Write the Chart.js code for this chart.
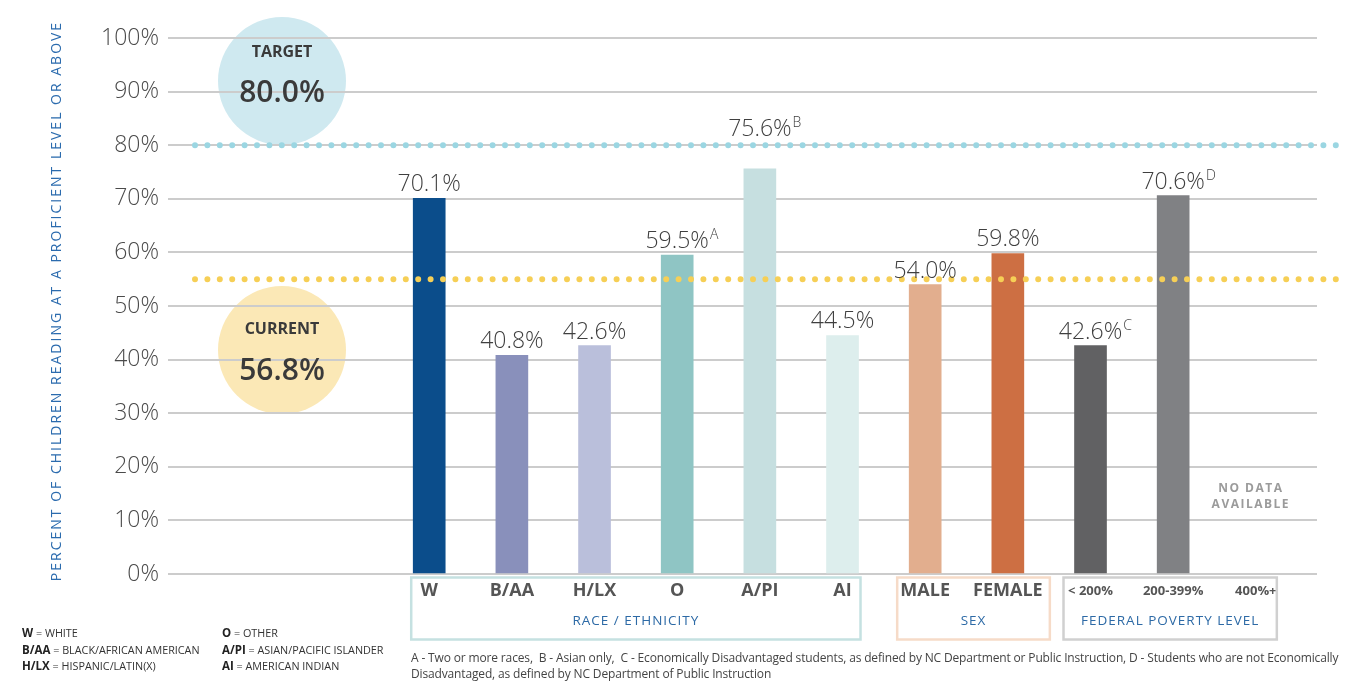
<!DOCTYPE html>
<html>
<head>
<meta charset="utf-8">
<title>Reading proficiency</title>
<script src="https://cdn.jsdelivr.net/npm/chart.js@4.4.0/dist/chart.umd.min.js"></script>
<style>
    html, body { margin: 0; padding: 0; background: #fff; }
    #wrap { position: relative; width: 1350px; height: 681px; overflow: hidden; }
    #reportChart { position: absolute; left: 0; top: 0; }
    .legend { position: absolute; font-family: 'Open Sans', sans-serif; font-size: 10.8px; color: #333; line-height: 16.5px; white-space: nowrap; }
    .legend b { font-size: 11.5px; color: #222; }
    #note { position: absolute; left: 411px; top: 650px; font-family: 'Liberation Sans Narrow', 'Open Sans', sans-serif; font-size: 12px; letter-spacing: -0.15px; line-height: 16px; color: #444; white-space: nowrap; }
</style>
</head>
<body>
<div id="wrap">
    <canvas id="reportChart" width="1350" height="681"></canvas>
    <div class="legend" style="left:22px; top:625px">
        <b>W</b> = WHITE<br>
        <b>B/AA</b> = BLACK/AFRICAN AMERICAN<br>
        <b>H/LX</b> = HISPANIC/LATIN(X)
    </div>
    <div class="legend" style="left:222px; top:625px">
        <b>O</b> = OTHER<br>
        <b>A/PI</b> = ASIAN/PACIFIC ISLANDER<br>
        <b>AI</b> = AMERICAN INDIAN
    </div>
    <div id="note">A - Two or more races,&nbsp; B - Asian only,&nbsp; C - Economically Disadvantaged students, as defined by NC Department or Public Instruction, D - Students who are not Economically<br>Disadvantaged, as defined by NC Department of Public Instruction</div>
</div>
<script>
// данные графика
var categories = ['W', 'B/AA', 'H/LX', 'O', 'A/PI', 'AI', 'MALE', 'FEMALE', '< 200%', '200-399%', '400%+'];
var values = [70.1, 40.8, 42.6, 59.5, 75.6, 44.5, 54.0, 59.8, 42.6, 70.6, null];
var notes = ['', '', '', 'A', 'B', '', '', '', 'C', 'D', ''];
var barColors = ['#0b4d8b', '#8990bb', '#babfdb', '#8fc5c4', '#c6dfe0', '#ddeeed', '#e2ae8e', '#cd6f43', '#616163', '#808184', '#ffffff'];
var yTicks = [0, 10, 20, 30, 40, 50, 60, 70, 80, 90, 100];
var groupNames = ['RACE / ETHNICITY', 'SEX', 'FEDERAL POVERTY LEVEL'];
var groupFirst = [0, 6, 8];
var groupLast = [5, 7, 10];
var targetValue = 80.0;
var currentValue = 56.8;
var targetLine = 80;
var currentLine = 55;

// оформление
var groupColors = ['#c5e1e1', '#f6dbc8', '#d0d0d0'];
var groupPad = [[18, 18], [28, 42], [27, 21]];
var FONT = "'Open Sans', sans-serif";
var circles = [
    {cy: 81, color: '#cfe9f0', label: 'TARGET', value: targetValue, ly: 52, vy: 93},
    {cy: 350, color: '#fbe8b6', label: 'CURRENT', value: currentValue, ly: 329, vy: 371}
];

var decorPlugin = {
    id: 'decor',
    beforeDraw: function (chart) {
        var ctx = chart.ctx;
        var area = chart.chartArea;
        ctx.save();
        // круги слева (под сеткой)
        circles.forEach(function (c) {
            ctx.fillStyle = c.color;
            ctx.beginPath();
            ctx.arc(282, c.cy, 64, 0, Math.PI * 2);
            ctx.fill();
        });
        // подпись оси Y
        ctx.translate(57, (area.top + area.bottom) / 2 - 5);
        ctx.rotate(-Math.PI / 2);
        ctx.fillStyle = '#2b6bae';
        ctx.font = '14px ' + FONT;
        ctx.letterSpacing = '2px';
        ctx.textAlign = 'center';
        ctx.textBaseline = 'middle';
        ctx.fillText('PERCENT OF CHILDREN READING AT A PROFICIENT LEVEL OR ABOVE', 0, 0);
        ctx.restore();
    },
    afterDatasetsDraw: function (chart) {
        var ctx = chart.ctx;
        var area = chart.chartArea;
        var xs = chart.scales.x;
        var ys = chart.scales.y;
        var tY = ys.getPixelForValue(targetLine);
        var cY = ys.getPixelForValue(currentLine);
        ctx.save();

        // текст в кругах
        circles.forEach(function (c) {
            ctx.fillStyle = '#3a3a3a';
            ctx.textAlign = 'center';
            ctx.textBaseline = 'middle';
            ctx.font = 'bold 16px ' + FONT;
            ctx.fillText(c.label, 282, c.ly);
            ctx.font = '600 30px ' + FONT;
            ctx.fillText(c.value.toFixed(1) + '%', 282, c.vy);
        });

        // пунктирные линии цели и текущего значения
        ctx.lineCap = 'round';
        ctx.lineWidth = 6;
        ctx.setLineDash([0, 12.4]);
        [[tY, '#9bd6e2'], [cY, '#f6cf56']].forEach(function (l) {
            ctx.strokeStyle = l[1];
            ctx.beginPath();
            ctx.moveTo(area.left + 27, l[0]);
            ctx.lineTo(area.right + 19, l[0]);
            ctx.stroke();
        });
        ctx.setLineDash([]);

        // подписи значений
        var meta = chart.getDatasetMeta(0);
        ctx.fillStyle = '#3f3f3f';
        ctx.textBaseline = 'alphabetic';
        meta.data.forEach(function (bar, i) {
            if (values[i] === null) return;
            var txt = values[i].toFixed(1) + '%';
            var base = bar.y - 7;
            if (base - 17 < tY + 4 && base > tY - 4) base = tY - 9;
            ctx.font = '300 23px ' + FONT;
            ctx.textAlign = 'center';
            ctx.fillText(txt, bar.x, base);
            if (notes[i]) {
                var w = ctx.measureText(txt).width;
                ctx.font = '300 14px ' + FONT;
                ctx.textAlign = 'left';
                ctx.fillText(notes[i], bar.x + w / 2 + 1, base - 9);
            }
        });

        // нет данных
        ctx.fillStyle = '#9b9b9b';
        ctx.font = 'bold 12px ' + FONT;
        ctx.letterSpacing = '1.5px';
        ctx.textAlign = 'center';
        ctx.textBaseline = 'middle';
        var nx = xs.getPixelForValue(10) - 5;
        ctx.fillText('NO DATA', nx, ys.getPixelForValue(16));
        ctx.fillText('AVAILABLE', nx, ys.getPixelForValue(13));
        ctx.letterSpacing = '0px';

        // рамки групп
        ctx.lineWidth = 2.5;
        for (var g = 0; g < groupNames.length; g++) {
            var x1 = xs.getPixelForValue(groupFirst[g]) - groupPad[g][0];
            var x2 = xs.getPixelForValue(groupLast[g]) + groupPad[g][1];
            ctx.strokeStyle = groupColors[g];
            ctx.strokeRect(x1, area.bottom + 3.5, x2 - x1, 62);
            ctx.fillStyle = '#2d6aa6';
            ctx.font = '13.5px ' + FONT;
            ctx.letterSpacing = '1px';
            ctx.fillText(groupNames[g], (x1 + x2) / 2, area.bottom + 47);
            ctx.letterSpacing = '0px';
        }
        ctx.restore();
    }
};

function RenderReport() {
    var ctx = document.getElementById('reportChart').getContext('2d');
    var points = [];
    for (var i = 0; i < values.length; i++) {
        points.push({x: i, y: values[i]});
    }

    new Chart(ctx, {
        type: 'bar',
        data: {
            datasets: [{
                data: points,
                backgroundColor: barColors,
                barThickness: 32
            }]
        },
        options: {
            responsive: false,
            animation: false,
            layout: {padding: {left: 0, right: 33, top: 38, bottom: 0}},
            plugins: {
                legend: {display: false},
                tooltip: {enabled: false}
            },
            scales: {
                x: {
                    type: 'linear',
                    offset: false,
                    min: -3.16,
                    max: 10.74,
                    afterBuildTicks: function (s) {
                        s.ticks = categories.map(function (c, i) { return {value: i}; });
                    },
                    afterFit: function (s) { s.height = 107; },
                    grid: {display: false, drawTicks: false},
                    border: {display: false},
                    ticks: {
                        autoSkip: false,
                        maxRotation: 0,
                        padding: 6,
                        color: '#555',
                        callback: function (v) { return categories[v]; },
                        font: function (c) {
                            return c.index >= 8 ? {family: FONT, size: 13, weight: 'bold', lineHeight: 1.8} : {family: FONT, size: 18, weight: 'bold'};
                        }
                    }
                },
                y: {
                    min: 0,
                    max: 100,
                    afterBuildTicks: function (s) {
                        s.ticks = yTicks.map(function (v) { return {value: v}; });
                    },
                    afterFit: function (s) { s.width = 168; },
                    grid: {color: '#cccccc', lineWidth: 2, drawTicks: false},
                    border: {display: false},
                    ticks: {
                        padding: 9,
                        color: '#4a4a4a',
                        font: {family: FONT, size: 23, weight: 300},
                        callback: function (v) { return v + '%'; }
                    }
                }
            }
        },
        plugins: [decorPlugin]
    });
}

RenderReport();
</script>
</body>
</html>
